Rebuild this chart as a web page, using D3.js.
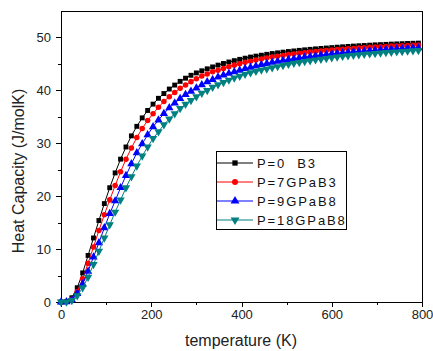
<!DOCTYPE html>
<html><head><meta charset="utf-8">
<script src="https://cdn.jsdelivr.net/npm/d3@7/dist/d3.min.js"></script>
<style>
html,body{margin:0;padding:0;background:#fff;}
svg{display:block;font-family:Arial,"Liberation Sans",sans-serif;}
</style></head>
<body><svg id="c" width="433" height="351"></svg>
<script>
const temps = [0,12,24,36,48,60,72,84,96,108,120,132,144,156,168,180,192,204,216,228,240,252,264,276,288,300,312,324,336,348,360,372,384,396,408,420,432,444,456,468,480,492,504,516,528,540,552,564,576,588,600,612,624,636,648,660,672,684,696,708,720,732,744,756,768,780,792];
const cpB3_0 = [0,0.1,0.8,2.7,5.5,8.8,12.1,15.4,18.6,21.6,24.4,27.0,29.3,31.4,33.2,34.8,36.2,37.4,38.5,39.4,40.25,41.0,41.7,42.3,42.85,43.3,43.7,44.07,44.43,44.77,45.08,45.36,45.62,45.86,46.08,46.29,46.47,46.64,46.81,46.96,47.09,47.22,47.34,47.45,47.56,47.66,47.75,47.84,47.92,48.0,48.08,48.16,48.23,48.3,48.37,48.43,48.48,48.54,48.6,48.64,48.69,48.74,48.78,48.82,48.86,48.9,48.93];
const cpB3_7 = [0,0.05,0.5,2.0,4.4,7.3,10.4,13.5,16.5,19.3,22.0,24.6,27.0,29.1,31.1,32.8,34.3,35.6,36.8,37.9,38.8,39.6,40.4,41.0,41.65,42.2,42.7,43.1,43.5,43.8,44.15,44.48,44.77,45.04,45.29,45.52,45.74,45.94,46.12,46.31,46.46,46.61,46.77,46.89,47.01,47.12,47.23,47.34,47.44,47.53,47.62,47.71,47.79,47.86,47.93,48.0,48.07,48.13,48.19,48.25,48.3,48.36,48.4,48.45,48.5,48.54,48.58];
const cpB8_9 = [0,0.05,0.4,1.6,3.4,5.8,8.5,11.2,14.0,16.7,19.1,21.6,23.9,26.1,28.2,29.9,31.6,33.1,34.4,35.6,36.7,37.6,38.45,39.2,39.8,40.45,41.05,41.6,42.05,42.5,42.9,43.2,43.5,43.8,44.1,44.35,44.6,44.86,45.07,45.28,45.47,45.65,45.83,45.98,46.13,46.28,46.4,46.52,46.66,46.78,46.9,47.0,47.09,47.18,47.27,47.35,47.43,47.5,47.58,47.65,47.73,47.78,47.84,47.9,47.95,48.0,48.05];
const cpB8_18 = [0,0.03,0.3,1.2,2.7,4.7,7.1,9.6,12.1,14.6,17.0,19.3,21.6,23.7,25.7,27.6,29.3,30.9,32.2,33.5,34.6,35.6,36.6,37.4,38.1,38.8,39.45,40.0,40.6,41.07,41.5,41.95,42.35,42.7,43.05,43.35,43.6,43.85,44.07,44.3,44.5,44.73,44.93,45.12,45.29,45.47,45.62,45.78,45.91,46.05,46.18,46.31,46.44,46.55,46.66,46.76,46.83,46.91,47.0,47.07,47.16,47.22,47.29,47.36,47.43,47.5,47.55];
const seriesNames = ["P=0  B3","P=7GPaB3","P=9GPaB8","P=18GPaB8"];
const seriesColors = ["#000000","#ff0000","#0000ff","#008080"];
const xTicks = [0,200,400,600,800];
const xMinor = [100,300,500,700];
const yTicks = [0,10,20,30,40,50];
const yMinor = [5,15,25,35,45];

const seriesData = [cpB3_0,cpB3_7,cpB8_9,cpB8_18];
const symbols = [d3.symbolSquare,d3.symbolCircle,d3.symbolTriangle,d3.symbolTriangle];
const symSizes = [24,24,30,30];
const symRot = [0,0,0,180];

const svg = d3.select("#c");
const L=61,R=422,T=11,B=302;
const x = d3.scaleLinear().domain([0,800]).range([L,R]);
const y = d3.scaleLinear().domain([0,55]).range([B,T]);

// frame
svg.append("rect").attr("x",L).attr("y",T).attr("width",R-L).attr("height",B-T)
  .attr("fill","none").attr("stroke","#000").attr("stroke-width",1).attr("shape-rendering","crispEdges");

// axes
const xAx = svg.append("g").attr("transform",`translate(0,${B})`)
  .call(d3.axisBottom(x).tickValues(xTicks).tickSize(5).tickPadding(3).tickFormat(d3.format("d")));
const xAxm = svg.append("g").attr("transform",`translate(0,${B})`)
  .call(d3.axisBottom(x).tickValues(xMinor).tickSize(3).tickFormat(""));
const yAx = svg.append("g").attr("transform",`translate(${L},0)`)
  .call(d3.axisLeft(y).tickValues(yTicks).tickSize(5).tickPadding(5).tickFormat(d3.format("d")));
const yAxm = svg.append("g").attr("transform",`translate(${L},0)`)
  .call(d3.axisLeft(y).tickValues(yMinor).tickSize(3).tickFormat(""));
[xAx,xAxm,yAx,yAxm].forEach(g=>{
  g.select(".domain").remove();
  g.selectAll("line").attr("stroke","#000").attr("shape-rendering","crispEdges");
  g.selectAll("text").attr("font-size",13).attr("fill","#222").attr("font-family","Arial, 'Liberation Sans', sans-serif");
});

// axis titles
svg.append("text").attr("x",241).attr("y",346).attr("text-anchor","middle")
  .attr("font-size",16).attr("fill","#222").text("temperature (K)");
svg.append("text").attr("transform","translate(24,171) rotate(-90)").attr("text-anchor","middle")
  .attr("font-size",16).attr("fill","#222").text("Heat Capacity (J/molK)");

// series
seriesData.forEach((vals,i)=>{
  const pts = temps.map((t,j)=>[t,vals[j]]);
  const line = d3.line().x(d=>x(d[0])).y(d=>y(d[1]));
  svg.append("path").datum(pts).attr("d",line).attr("fill","none")
    .attr("stroke",seriesColors[i]).attr("stroke-width",1);
  const sym = d3.symbol().type(symbols[i]).size(symSizes[i]);
  svg.append("g").selectAll("path").data(pts).join("path")
    .attr("d",sym)
    .attr("transform",d=>`translate(${x(d[0])},${y(d[1])}) rotate(${symRot[i]})`)
    .attr("fill",seriesColors[i]);
});

// legend
const lg = svg.append("g");
lg.append("rect").attr("x",216.5).attr("y",151.5).attr("width",130).attr("height",78)
  .attr("fill","#fff").attr("stroke","#000").attr("stroke-width",1);
seriesNames.forEach((n,i)=>{
  const cy = 163 + i*19;
  lg.append("line").attr("x1",217).attr("x2",253).attr("y1",cy).attr("y2",cy)
    .attr("stroke",seriesColors[i]).attr("stroke-width",1);
  lg.append("path").attr("d",d3.symbol().type(symbols[i]).size(symSizes[i]+4)())
    .attr("transform",`translate(235,${cy}) rotate(${symRot[i]})`).attr("fill",seriesColors[i]);
  lg.append("text").attr("x",257).attr("y",cy+4.5).attr("font-size",13)
    .attr("letter-spacing","1.9px").attr("fill","#111").style("white-space","pre").text(n);
});
</script></body></html>
